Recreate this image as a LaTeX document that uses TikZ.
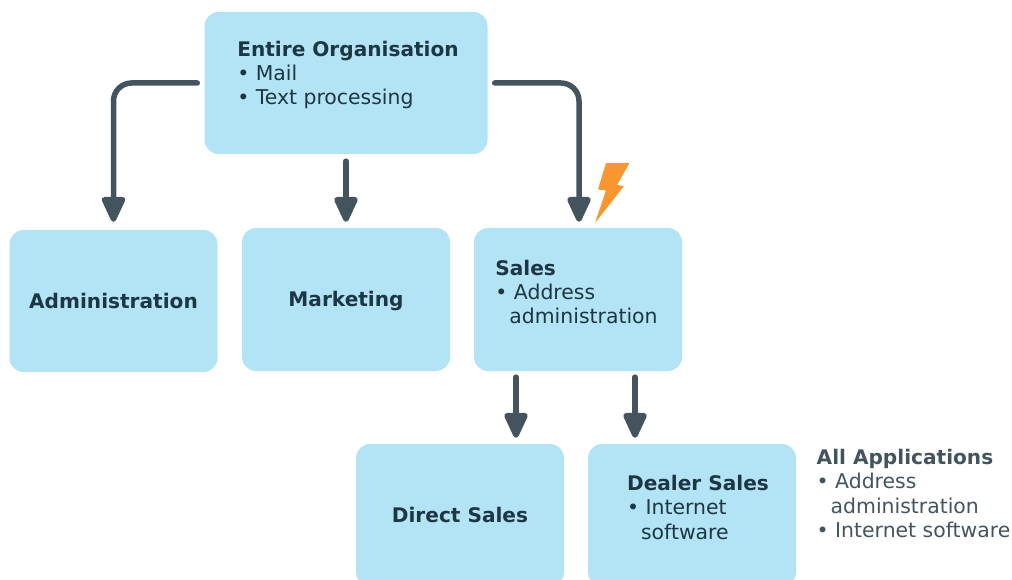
\documentclass[tikz,border=0pt]{standalone}
\usepackage{fontspec}
\setmainfont{DejaVu Sans}
\usetikzlibrary{positioning,arrows.meta}
\definecolor{boxblue}{HTML}{B3E4F5}
\definecolor{flowgrey}{HTML}{43545F}
\definecolor{inkdark}{HTML}{1C3644}
\definecolor{boltorange}{HTML}{F9962F}
\tikzset{
    >={Triangle[round,length=29pt,width=25pt]},
    orgbox/.style = {fill=boxblue, rounded corners=14pt, minimum width=208pt, minimum height=142pt, inner sep=0pt,
        text=inkdark, text height=15pt, text depth=1pt, font=\fontsize{20.1}{24.4}\selectfont\bfseries},
    orgtext/.style = {align=left, inner sep=0pt, text=inkdark, font=\fontsize{20.4}{24.4}\selectfont},
    flow/.style = {->, draw=flowgrey, line width=5.5pt, line cap=round, rounded corners=18pt},
}
\newcommand{\hd}[1]{{\fontsize{20.1}{24.4}\selectfont\bfseries #1}}
\begin{document}
\begin{tikzpicture}[x=1pt,y=-1pt]
    \useasboundingbox (0,0) rectangle (1012,580);

    \node [orgbox, minimum width=283pt] (entire) at (346,83) {};
    \node [orgbox] (admin) at (113.5,301) {Administration};
    \node [orgbox, minimum height=143pt] (marketing) at (346,299.5) {Marketing};
    \node [orgbox, minimum height=143pt] (sales) at (578,299.5) {};
    \node [orgbox] (direct) at (460,515) {Direct Sales};
    \node [orgbox] (dealer) at (692,515) {};

    \node [orgtext] (entiretext) at (348,75) {\hd{Entire Organisation}\\• Mail\\• Text processing};
    \node [orgtext] (salestext) at (576.5,292) {\hd{Sales}\\• Address\\\hspace*{14pt}administration};
    \node [orgtext] (dealertext) at (698,507.5) {\hd{Dealer Sales}\\• Internet\\\hspace*{14pt}software};
    \node [orgtext, text=flowgrey] (alltext) at (913.5,493.5) {\hd{All Applications}\\• Address\\\hspace*{14pt}administration\\• Internet software};

    \draw [flow, shorten <=7pt, shorten >=8pt] (entire.west) -| (admin.north);
    \draw [flow, shorten <=7pt, shorten >=6pt] (entire.east) -| ([xshift=1pt]sales.north);
    \draw [flow, shorten <=7pt, shorten >=6pt] (entire.south) -- (marketing.north);
    \draw [flow, shorten <=6pt, shorten >=6pt] ([xshift=-62pt]sales.south) -- ([xshift=56pt]direct.north);
    \draw [flow, shorten <=6pt, shorten >=6pt] ([xshift=57pt]sales.south) -- ([xshift=-57pt]dealer.north);

    \fill [boltorange, rounded corners=0.8pt] (606,163) -- (629.5,163) -- (617,185) -- (624,186) -- (595,223) -- (606,190.5) -- (598,189.5) -- cycle;
\end{tikzpicture}
\end{document}
